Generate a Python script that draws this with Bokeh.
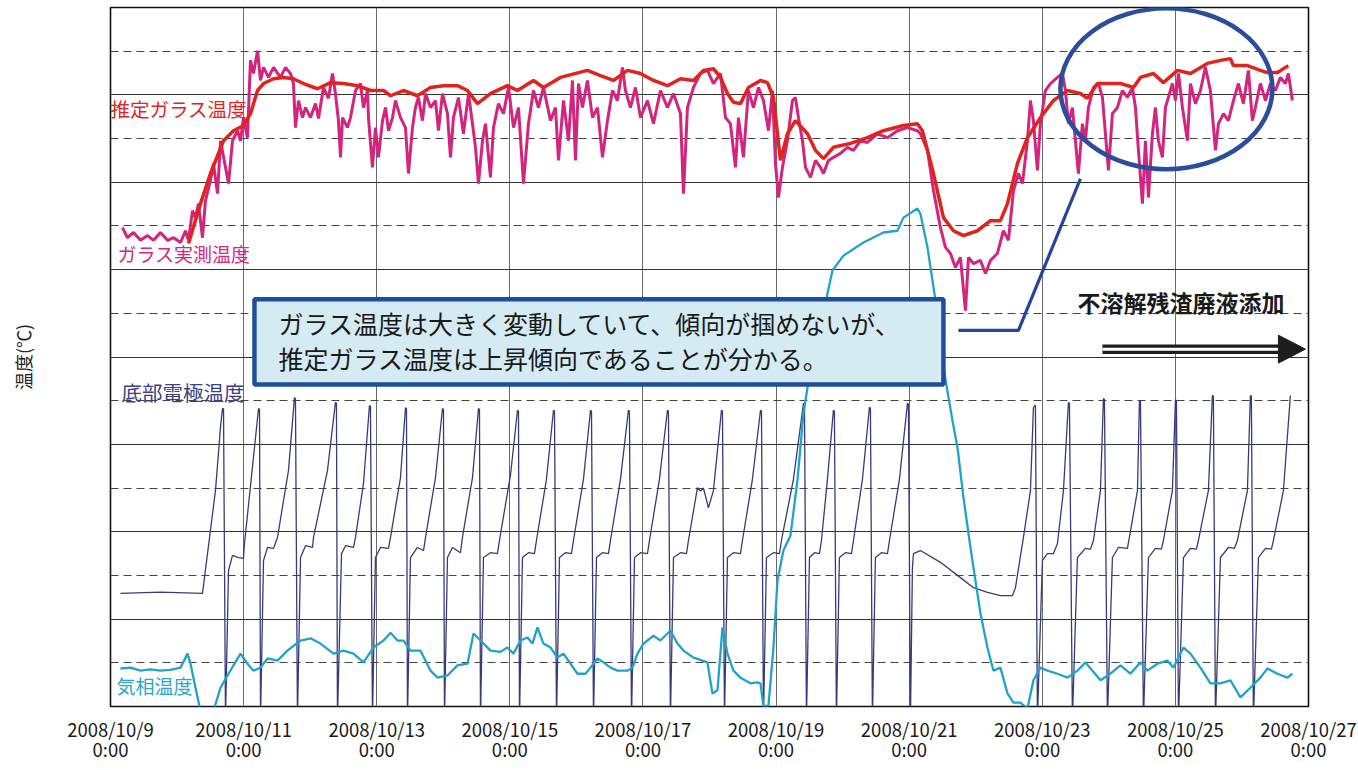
from bokeh.plotting import figure
from bokeh.models import Range1d, FixedTicker, Label, BoxAnnotation, LinearAxis
from bokeh.embed import file_html
from bokeh.resources import INLINE

# ---------------- data (x = days since 2008/10/9 0:00, y = temperature) ----------------
tick_days = [0, 2, 4, 6, 8, 10, 12, 14, 16, 18]
tick_dates = ["2008/10/9", "2008/10/11", "2008/10/13", "2008/10/15", "2008/10/17",
              "2008/10/19", "2008/10/21", "2008/10/23", "2008/10/25", "2008/10/27"]
tick_times = ["0:00"] * 10
y_major = [200, 400, 600, 800, 1000, 1200, 1400]
y_minor = [100, 300, 500, 700, 900, 1100, 1300, 1500]

# 推定ガラス温度 (estimated glass temperature)
est_day = [1.172, 1.352, 1.502, 1.698, 1.848, 1.998, 2.103, 2.209, 2.299, 2.449, 2.599, 2.749, 2.900,
           3.110, 3.305, 3.501, 3.711, 3.906, 4.102, 4.207, 4.402, 4.612, 4.808, 5.003, 5.213, 5.364,
           5.514, 5.709, 5.964, 6.115, 6.355, 6.505, 6.761, 7.166, 7.362, 7.557, 7.767, 7.963, 8.158,
           8.368, 8.564, 8.759, 8.909, 9.059, 9.165, 9.270, 9.360, 9.465, 9.585, 9.766, 9.871, 9.961,
           10.066, 10.171, 10.291, 10.472, 10.592, 10.712, 10.862, 11.118, 11.373, 11.613, 11.914,
           12.124, 12.199, 12.365, 12.515, 12.665, 12.815, 13.026, 13.221, 13.371, 13.477, 13.627,
           13.777, 13.972, 14.168, 14.378, 14.573, 14.678, 14.829, 15.174, 15.370, 15.475, 15.670,
           15.820, 16.031, 16.226, 16.481, 16.677, 16.827, 16.872, 17.082, 17.277, 17.383, 17.533, 17.698]
est_temp = [1060, 1151, 1220, 1295, 1318, 1330, 1357, 1410, 1426, 1437, 1440, 1437, 1426,
            1414, 1428, 1426, 1421, 1410, 1410, 1398, 1410, 1398, 1417, 1421, 1421, 1410,
            1380, 1403, 1421, 1410, 1433, 1417, 1440, 1456, 1444, 1433, 1456, 1449, 1433,
            1421, 1437, 1433, 1456, 1460, 1440, 1403, 1383, 1380, 1417, 1433, 1428, 1394,
            1250, 1311, 1341, 1311, 1273, 1254, 1280, 1289, 1302, 1318, 1330,
            1334, 1318, 1220, 1119, 1089, 1078, 1089, 1112, 1112, 1151, 1243,
            1302, 1348, 1387, 1410, 1403, 1392, 1426, 1426, 1417, 1440, 1449,
            1428, 1456, 1449, 1472, 1479, 1483, 1467, 1467, 1456, 1451, 1451, 1467]

# ガラス実測温度 (measured glass temperature)
meas_pts = [
    (0.180, 1096), (0.255, 1073), (0.346, 1085), (0.451, 1067), (0.556, 1078), (0.646, 1067),
    (0.751, 1085), (0.856, 1067), (0.947, 1073), (1.052, 1062), (1.127, 1089), (1.172, 1067),
    (1.232, 1135), (1.277, 1119), (1.322, 1151), (1.382, 1073), (1.427, 1158), (1.502, 1204),
    (1.547, 1243), (1.608, 1174), (1.653, 1295), (1.728, 1234), (1.773, 1197), (1.833, 1295),
    (1.908, 1318), (1.953, 1295), (1.998, 1348), (2.058, 1302), (2.103, 1479), (2.148, 1449),
    (2.209, 1501), (2.254, 1433), (2.299, 1463), (2.374, 1440), (2.449, 1463), (2.554, 1440),
    (2.629, 1463), (2.704, 1449), (2.749, 1426), (2.779, 1325), (2.825, 1387), (2.885, 1348),
    (2.930, 1371), (3.005, 1348), (3.080, 1380), (3.125, 1346), (3.200, 1417), (3.275, 1392),
    (3.335, 1449), (3.380, 1403), (3.425, 1341), (3.456, 1257), (3.486, 1348), (3.561, 1325),
    (3.606, 1348), (3.681, 1410), (3.756, 1426), (3.801, 1371), (3.861, 1410), (3.876, 1348),
    (3.936, 1234), (3.981, 1325), (4.026, 1257), (4.087, 1341), (4.132, 1371), (4.177, 1318),
    (4.237, 1348), (4.282, 1387), (4.357, 1348), (4.432, 1325), (4.477, 1220), (4.537, 1325),
    (4.582, 1371), (4.627, 1394), (4.687, 1341), (4.733, 1403), (4.808, 1371), (4.883, 1387),
    (4.928, 1318), (4.988, 1403), (5.063, 1357), (5.108, 1257), (5.153, 1348), (5.228, 1394),
    (5.303, 1311), (5.379, 1403), (5.439, 1334), (5.484, 1280), (5.529, 1197), (5.589, 1295),
    (5.634, 1334), (5.709, 1211), (5.754, 1325), (5.829, 1380), (5.904, 1357), (5.980, 1417),
    (6.055, 1325), (6.130, 1371), (6.205, 1197), (6.280, 1334), (6.355, 1410), (6.430, 1371),
    (6.505, 1417), (6.611, 1341), (6.686, 1371), (6.731, 1250), (6.806, 1387), (6.881, 1295),
    (6.941, 1433), (6.986, 1250), (7.031, 1426), (7.091, 1371), (7.166, 1433), (7.242, 1348),
    (7.317, 1371), (7.392, 1257), (7.467, 1341), (7.542, 1410), (7.617, 1387), (7.692, 1463),
    (7.737, 1410), (7.812, 1371), (7.888, 1417), (7.963, 1348), (8.068, 1387), (8.158, 1334),
    (8.263, 1410), (8.368, 1371), (8.459, 1403), (8.564, 1357), (8.609, 1174), (8.669, 1371),
    (8.759, 1417), (8.864, 1449), (8.969, 1456), (9.059, 1426), (9.165, 1449), (9.240, 1348),
    (9.315, 1334), (9.390, 1234), (9.435, 1348), (9.510, 1257), (9.585, 1410), (9.660, 1371),
    (9.736, 1417), (9.811, 1387), (9.886, 1318), (9.946, 1410), (9.991, 1243), (10.036, 1165),
    (10.096, 1234), (10.171, 1295), (10.246, 1387), (10.291, 1394), (10.337, 1348), (10.397, 1295),
    (10.442, 1234), (10.517, 1211), (10.592, 1250), (10.667, 1234), (10.712, 1220), (10.787, 1250),
    (10.862, 1257), (10.968, 1266), (11.073, 1280), (11.163, 1273), (11.268, 1295), (11.373, 1291),
    (11.523, 1311), (11.674, 1302), (11.824, 1318), (11.974, 1325), (12.124, 1318), (12.169, 1311),
    (12.275, 1273), (12.365, 1181), (12.470, 1096), (12.545, 1051), (12.620, 1037), (12.695, 1005),
    (12.770, 1028), (12.846, 906), (12.891, 1028), (12.966, 1014), (13.071, 1021), (13.146, 991),
    (13.221, 1021), (13.326, 1037), (13.416, 1089), (13.492, 1067), (13.567, 1181), (13.642, 1220),
    (13.702, 1197), (13.777, 1295), (13.822, 1387), (13.867, 1341), (13.927, 1227), (13.972, 1334),
    (14.047, 1410), (14.123, 1426), (14.228, 1440), (14.303, 1449), (14.348, 1410), (14.393, 1334),
    (14.453, 1371), (14.498, 1295), (14.543, 1220), (14.603, 1334), (14.648, 1295), (14.693, 1371),
    (14.769, 1417), (14.844, 1426), (14.904, 1394), (14.949, 1311), (14.994, 1227), (15.054, 1357),
    (15.129, 1371), (15.204, 1410), (15.279, 1394), (15.354, 1417), (15.400, 1371), (15.445, 1273),
    (15.505, 1151), (15.550, 1295), (15.595, 1165), (15.655, 1311), (15.700, 1371), (15.745, 1295),
    (15.805, 1257), (15.850, 1371), (15.895, 1394), (15.955, 1426), (16.001, 1387), (16.046, 1449),
    (16.106, 1371), (16.181, 1295), (16.226, 1426), (16.301, 1380), (16.376, 1410), (16.451, 1463),
    (16.526, 1410), (16.602, 1273), (16.647, 1334), (16.722, 1357), (16.797, 1341), (16.872, 1387),
    (16.947, 1426), (17.022, 1380), (17.097, 1456), (17.157, 1341), (17.202, 1371), (17.277, 1426),
    (17.353, 1387), (17.428, 1426), (17.503, 1410), (17.578, 1440), (17.653, 1426), (17.698, 1449),
    (17.758, 1387)]
meas_day = [d for d, t in meas_pts]
meas_temp = [t for d, t in meas_pts]

# 底部電極温度 (bottom electrode temperature)
elec_pts = [
    (0.150, 259), (0.751, 262), (1.382, 259), (1.577, 494), (1.653, 640), (1.683, 682), (1.698, 682), (1.728, -30),
    (1.773, 311), (1.833, 346), (1.923, 341), (1.998, 339), (2.013, 373), (2.148, 570), (2.224, 682), (2.239, 680), (2.254, -30),
    (2.299, 334), (2.359, 364), (2.449, 362), (2.509, 387), (2.674, 540), (2.764, 707), (2.779, 705), (2.809, -30),
    (2.855, 341), (2.930, 368), (3.035, 364), (3.050, 387), (3.260, 540), (3.380, 696), (3.395, 694), (3.410, -30),
    (3.471, 350), (3.531, 368), (3.651, 364), (3.681, 387), (3.801, 510), (3.891, 689), (3.906, 687), (3.936, -30),
    (3.981, 341), (4.056, 364), (4.177, 362), (4.207, 387), (4.357, 524), (4.432, 684), (4.447, 682), (4.462, -30),
    (4.507, 341), (4.612, 364), (4.703, 357), (4.733, 387), (4.883, 524), (4.988, 682), (5.003, 680), (5.018, -30),
    (5.063, 341), (5.138, 364), (5.258, 352), (5.288, 387), (5.439, 524), (5.529, 682), (5.544, 680), (5.559, -30),
    (5.604, 341), (5.709, 352), (5.814, 350), (5.844, 380), (6.010, 530), (6.115, 678), (6.130, 676), (6.145, -30),
    (6.190, 341), (6.280, 352), (6.370, 350), (6.400, 380), (6.550, 520), (6.656, 678), (6.671, 676), (6.701, -30),
    (6.746, 341), (6.836, 352), (6.926, 350), (6.956, 380), (7.106, 520), (7.212, 678), (7.227, 676), (7.257, -30),
    (7.302, 341), (7.392, 352), (7.482, 350), (7.512, 380), (7.662, 520), (7.782, 678), (7.797, 676), (7.828, -30),
    (7.873, 341), (7.963, 352), (8.068, 350), (8.098, 380), (8.248, 520), (8.368, 678), (8.383, 676), (8.413, -30),
    (8.459, 341), (8.564, 352), (8.654, 350), (8.684, 380), (8.819, 501), (8.864, 493), (8.909, 500), (8.984, 455),
    (9.059, 494), (9.180, 678), (9.195, 676), (9.225, -30),
    (9.270, 341), (9.360, 352), (9.465, 350), (9.495, 380), (9.645, 520), (9.766, 678), (9.781, 676), (9.811, -30),
    (9.856, 341), (9.961, 352), (10.051, 350), (10.081, 380), (10.261, 520), (10.412, 694), (10.427, 692), (10.457, -30),
    (10.502, 341), (10.577, 352), (10.652, 350), (10.682, 380), (10.772, 520), (10.862, 678), (10.877, 676), (10.907, -30),
    (10.952, 341), (11.043, 352), (11.133, 350), (11.163, 380), (11.298, 520), (11.403, 685), (11.418, 683), (11.448, -30),
    (11.493, 341), (11.584, 352), (11.674, 350), (11.704, 380), (11.854, 520), (11.974, 694), (11.989, 692), (12.019, -30),
    (12.049, 318), (12.064, 350), (12.169, 357), (12.470, 330), (12.770, 295), (12.966, 272), (13.176, 261),
    (13.371, 254), (13.552, 254), (13.597, 272), (13.717, 387), (13.822, 494), (13.867, 684), (13.897, 690), (13.927, -30),
    (14.002, 334), (14.077, 350), (14.168, 350), (14.228, 373), (14.318, 494), (14.393, 696), (14.408, 694), (14.453, -30),
    (14.528, 341), (14.648, 362), (14.724, 360), (14.769, 380), (14.874, 494), (14.919, 705), (14.934, 703), (14.979, -30),
    (15.054, 341), (15.144, 364), (15.279, 362), (15.309, 387), (15.430, 494), (15.460, 700), (15.475, 698), (15.520, -30),
    (15.595, 341), (15.700, 362), (15.790, 360), (15.820, 380), (15.955, 494), (16.001, 702), (16.016, 700), (16.046, -30),
    (16.121, 341), (16.226, 362), (16.316, 360), (16.346, 380), (16.496, 494), (16.556, 712), (16.571, 710), (16.602, -30),
    (16.677, 341), (16.797, 364), (16.887, 362), (16.932, 380), (17.082, 494), (17.127, 712), (17.142, 710), (17.172, -30),
    (17.248, 341), (17.353, 362), (17.443, 360), (17.473, 380), (17.623, 494), (17.728, 712)]
elec_day = [d for d, t in elec_pts]
elec_temp = [t for d, t in elec_pts]

# 気相温度 (gas phase temperature)
gas_pts = [
    (0.150, 87), (0.300, 89), (0.451, 82), (0.601, 85), (0.751, 82), (0.901, 84), (1.052, 89), (1.157, 121),
    (1.202, 98), (1.277, 43), (1.352, -10), (1.547, -10), (1.653, 43), (1.773, 75), (1.953, 121), (2.058, 98),
    (2.148, 82), (2.254, 89), (2.359, 110), (2.509, 105), (2.659, 128), (2.855, 151), (3.005, 156), (3.155, 144),
    (3.350, 121), (3.501, 128), (3.651, 121), (3.801, 101), (3.951, 135), (4.102, 151), (4.207, 169), (4.312, 151),
    (4.402, 151), (4.507, 128), (4.657, 128), (4.808, 82), (4.913, 66), (5.063, 71), (5.213, 94), (5.364, 98),
    (5.454, 167), (5.559, 151), (5.709, 128), (5.859, 125), (5.964, 135), (6.055, 121), (6.160, 151), (6.265, 158),
    (6.340, 144), (6.415, 181), (6.505, 144), (6.611, 135), (6.716, 112), (6.806, 121), (6.911, 98), (7.016, 75),
    (7.136, 75), (7.212, 89), (7.317, 110), (7.407, 101), (7.512, 89), (7.617, 82), (7.767, 82), (7.843, 89),
    (7.918, 121), (8.008, 144), (8.158, 162), (8.263, 151), (8.413, 174), (8.519, 144), (8.609, 128), (8.759, 112),
    (8.969, 101), (9.044, 30), (9.120, 37), (9.195, 181), (9.270, 121), (9.360, 82), (9.465, 66), (9.615, 53),
    (9.721, 55), (9.766, 53), (9.811, 0), (9.886, 2), (9.961, 135), (10.021, 288), (10.111, 357), (10.216, 391),
    (10.321, 517), (10.412, 671), (10.472, 730), (10.622, 822), (10.772, 945), (10.847, 998), (11.013, 1032),
    (11.313, 1062), (11.613, 1085), (11.824, 1089), (11.914, 1119), (12.124, 1140), (12.169, 1128), (12.275, 1051),
    (12.425, 900), (12.515, 776), (12.650, 655), (12.726, 593), (12.816, 478), (12.921, 364), (12.996, 288),
    (13.071, 213), (13.176, 135), (13.266, 82), (13.371, 89), (13.477, 30), (13.567, 9), (13.672, 9), (13.777, -5),
    (13.867, 60), (13.972, 89), (14.077, 82), (14.228, 75), (14.378, 66), (14.528, 82), (14.648, 101), (14.754, 82),
    (14.874, 60), (15.024, 75), (15.174, 94), (15.324, 75), (15.475, 101), (15.580, 82), (15.730, 98), (15.880, 105),
    (15.970, 89), (16.121, 135), (16.226, 121), (16.376, 89), (16.526, 53), (16.677, 53), (16.827, 60), (16.977, 21),
    (17.127, 43), (17.277, 66), (17.383, 87), (17.533, 75), (17.683, 66), (17.758, 75)]
gas_day = [d for d, t in gas_pts]
gas_temp = [t for d, t in gas_pts]

# ---------------- figure ----------------
JP = "Noto Sans CJK JP"
p = figure(width=1358, height=770, output_backend="svg", toolbar_location=None,
           x_range=Range1d(0, 18), y_range=Range1d(0, 1600),
           min_border_left=110, min_border_right=50, min_border_top=7, min_border_bottom=64)
p.background_fill_color = "white"
p.border_fill_color = "white"
p.outline_line_color = "#111111"
p.outline_line_width = 1.6

# date row (nearest the frame)
p.xaxis.ticker = FixedTicker(ticks=tick_days)
p.xaxis.major_label_overrides = {d: lab for d, lab in zip(tick_days, tick_dates)}
# time row (second axis below)
time_axis = LinearAxis(ticker=FixedTicker(ticks=tick_days),
                       major_label_overrides={d: lab for d, lab in zip(tick_days, tick_times)})
p.add_layout(time_axis, "below")
for ax in (p.xaxis[0], time_axis):
    ax.axis_line_color = None
    ax.major_tick_line_color = None
    ax.minor_tick_line_color = None
    ax.major_tick_out = 0
    ax.major_tick_in = 0
    ax.major_label_text_font = JP
    ax.major_label_text_font_size = "18.5px"
    ax.major_label_text_color = "#1a1a1a"
p.xaxis[0].major_label_standoff = 9
time_axis.major_label_standoff = -9

p.yaxis.ticker = FixedTicker(ticks=[])
p.yaxis.axis_line_color = None
p.yaxis.major_tick_line_color = None
p.yaxis.minor_tick_line_color = None
p.yaxis.major_tick_out = 0
p.yaxis.major_label_text_font_size = "0px"
p.yaxis.axis_label = "温度(℃)"
p.yaxis.axis_label_text_font = JP
p.yaxis.axis_label_text_font_size = "18px"
p.yaxis.axis_label_text_font_style = "normal"
p.yaxis.axis_label_text_color = "#222222"
p.yaxis.axis_label_standoff = 75

p.xgrid.ticker = FixedTicker(ticks=tick_days)
p.xgrid.grid_line_color = "#6a6a6a"
p.xgrid.grid_line_width = 1
p.ygrid.ticker = FixedTicker(ticks=y_major, minor_ticks=y_minor)
p.ygrid.grid_line_color = "#333333"
p.ygrid.grid_line_width = 1
p.ygrid.minor_grid_line_color = "#444444"
p.ygrid.minor_grid_line_dash = "8 5"
p.ygrid.minor_grid_line_width = 1

# series
p.line(elec_day, elec_temp, line_color="#363c78", line_width=1.3)
p.line(gas_day, gas_temp, line_color="#21a3c9", line_width=2.3)
p.line(meas_day, meas_temp, line_color="#d3247e", line_width=3.0)
p.line(est_day, est_temp, line_color="#e2231d", line_width=3.5)

# highlight ellipse and connector
p.ellipse(x=[15.865], y=[1414], width=3.185, height=368, fill_color=None,
          line_color="#2c4c9e", line_width=4.5)
p.line([12.740, 13.642, 14.573], [861, 861, 1208], line_color="#25449b", line_width=3.2)

# double arrow
p.line([14.904, 17.56], [818, 818], line_color="#1d1d1d", line_width=9.5)
p.line([14.904, 17.56], [818, 818], line_color="white", line_width=3)
p.patch([17.548, 17.548, 17.954], [850, 786, 818], color="#1d1d1d")

# callout box
p.add_layout(BoxAnnotation(left=2.163, right=12.515, bottom=737, top=932,
                           fill_color="#d4ebf3", fill_alpha=1.0,
                           line_color="#1f4e9c", line_alpha=1.0, line_width=4.5))
p.add_layout(Label(x=2.524, y=877, text="ガラス温度は大きく変動していて、傾向が掴めないが、",
                   text_font=JP, text_font_size="25px", text_color="#1a1a1a",
                   text_baseline="middle", text_align="left"))
p.add_layout(Label(x=2.524, y=797, text="推定ガラス温度は上昇傾向であることが分かる。",
                   text_font=JP, text_font_size="25px", text_color="#1a1a1a",
                   text_baseline="middle", text_align="left"))

p.add_layout(Label(x=14.528, y=925, text="不溶解残渣廃液添加", text_font=JP,
                   text_font_size="23px", text_font_style="bold", text_color="#1a1a1a",
                   text_baseline="middle", text_align="left"))

# series labels
p.add_layout(Label(x=0.0, y=1369, text="推定ガラス温度", text_font=JP, text_font_size="19.5px",
                   text_color="#d8281f", text_baseline="middle", text_align="left"))
p.add_layout(Label(x=0.105, y=1037, text="ガラス実測温度", text_font=JP, text_font_size="19px",
                   text_color="#d02a80", text_baseline="middle", text_align="left"))
p.add_layout(Label(x=0.165, y=721, text="底部電極温度", text_font=JP, text_font_size="20.5px",
                   text_color="#3b4180", text_baseline="middle", text_align="left"))
p.add_layout(Label(x=0.09, y=48, text="気相温度", text_font=JP, text_font_size="19px",
                   text_color="#2aa6ca", text_baseline="middle", text_align="left"))

open("out.html", "w").write(file_html(p, INLINE))
